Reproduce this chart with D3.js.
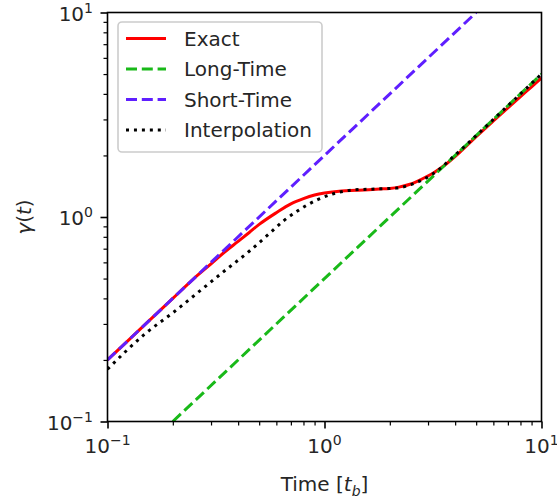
<!DOCTYPE html>
<html>
<head>
<meta charset="utf-8">
<script src="https://cdn.jsdelivr.net/npm/d3@7"></script>
<style>
body { margin: 0; background: #fff; }
text { font-family: "DejaVu Sans", sans-serif; fill: #262626; }
</style>
</head>
<body>
<svg id="chart" width="557" height="501"></svg>
<script>
// values
var exactT = [0.1, 0.15, 0.2, 0.25, 0.3, 0.35, 0.4, 0.45, 0.5, 0.6, 0.7, 0.8, 0.9, 1.0, 1.2, 1.4, 1.6, 1.8, 2.0, 2.2, 2.5, 2.8, 3.2, 3.6, 4.2, 5.0, 6.0, 7.0, 8.0, 9.0, 10];
var exactY = [0.2, 0.3, 0.4, 0.5, 0.59, 0.68, 0.76, 0.84, 0.92, 1.05, 1.16, 1.23, 1.28, 1.31, 1.34, 1.35, 1.36, 1.37, 1.38, 1.4, 1.45, 1.53, 1.65, 1.8, 2.07, 2.47, 2.95, 3.42, 3.88, 4.33, 4.78];
var longT = [0.2, 10];
var longY = [0.1, 5.0];
var shortT = [0.1, 5.0];
var shortY = [0.2, 10];
var interpT = [0.1, 0.15, 0.2, 0.27, 0.35, 0.45, 0.55, 0.65, 0.75, 0.92, 1.1, 1.35, 1.7, 2.15, 2.5, 2.9, 3.4, 3.9, 5, 6, 8, 10];
var interpY = [0.18, 0.27, 0.34, 0.44, 0.55, 0.68, 0.82, 0.96, 1.07, 1.21, 1.3, 1.355, 1.37, 1.385, 1.44, 1.54, 1.72, 1.96, 2.5, 3.0, 4.0, 5.0];

var majorTicks = [0.1, 1, 10];
var tickExps = ["\u22121", "0", "1"];
var seriesNames = ["Exact", "Long-Time", "Short-Time", "Interpolation"];

drawChart();

function drawChart() {
	var pLeft = 107.5, pRight = 541.5, pTop = 12.5, pBottom = 421.5;
	var fs = 20;

	var svg = d3.select("#chart");
	var x = d3.scaleLog().domain([0.1, 10]).range([pLeft, pRight]);
	var y = d3.scaleLog().domain([0.1, 10]).range([pBottom, pTop]);

	var minorTicks = [];
	[0.1, 1].forEach(function(d) {
		for (var k = 2; k < 10; k++) minorTicks.push(d * k);
	});

	svg.append("clipPath").attr("id", "plotClip")
		.append("rect").attr("x", pLeft).attr("y", pTop).attr("width", pRight - pLeft).attr("height", pBottom - pTop);

	var styles = [
		{ color: "#ff0000", dash: null },
		{ color: "#19b919", dash: "11,4.8" },
		{ color: "#5f1fff", dash: "11,4.8" },
		{ color: "#000000", dash: "3,4.95" }
	];
	var series = [[exactT, exactY], [longT, longY], [shortT, shortY], [interpT, interpY]];

	var line = d3.line()
		.x(function(d) { return x(d[0]); })
		.y(function(d) { return y(d[1]); })
		.curve(d3.curveMonotoneX);

	var plot = svg.append("g").attr("clip-path", "url(#plotClip)");
	series.forEach(function(s, i) {
		plot.append("path")
			.attr("d", line(d3.zip(s[0], s[1])))
			.attr("fill", "none")
			.attr("stroke", styles[i].color)
			.attr("stroke-width", 3)
			.attr("stroke-dasharray", styles[i].dash);
	});

	// ticks through d3 axes, labels drawn separately with superscripts
	var xMajor = svg.append("g").attr("transform", "translate(0," + pBottom + ")")
		.call(d3.axisBottom(x).tickValues(majorTicks).tickSize(7).tickFormat(""));
	var xMinor = svg.append("g").attr("transform", "translate(0," + pBottom + ")")
		.call(d3.axisBottom(x).tickValues(minorTicks).tickSize(4).tickFormat(""));
	var yMajor = svg.append("g").attr("transform", "translate(" + pLeft + ",0)")
		.call(d3.axisLeft(y).tickValues(majorTicks).tickSize(7).tickFormat(""));
	var yMinor = svg.append("g").attr("transform", "translate(" + pLeft + ",0)")
		.call(d3.axisLeft(y).tickValues(minorTicks).tickSize(4).tickFormat(""));
	[xMajor, yMajor].forEach(function(g) {
		g.select(".domain").remove();
		g.selectAll("line").attr("stroke", "#000").attr("stroke-width", 1.6);
	});
	[xMinor, yMinor].forEach(function(g) {
		g.select(".domain").remove();
		g.selectAll("line").attr("stroke", "#000").attr("stroke-width", 1.2);
	});

	svg.append("rect")
		.attr("x", pLeft).attr("y", pTop).attr("width", pRight - pLeft).attr("height", pBottom - pTop)
		.attr("fill", "none").attr("stroke", "#000").attr("stroke-width", 1.6);

	function powerLabel(sel, exp) {
		sel.append("tspan").text("10");
		sel.append("tspan").attr("dy", -8).attr("font-size", fs * 0.7).text(exp);
	}

	majorTicks.forEach(function(v, i) {
		var tx = svg.append("text").attr("x", x(v)).attr("y", 453)
			.attr("text-anchor", "middle").attr("font-size", fs);
		powerLabel(tx, tickExps[i]);
		var ty = svg.append("text").attr("x", 93).attr("y", y(v) + 8)
			.attr("text-anchor", "end").attr("font-size", fs);
		powerLabel(ty, tickExps[i]);
	});

	var xl = svg.append("text").attr("x", (pLeft + pRight) / 2).attr("y", 491)
		.attr("text-anchor", "middle").attr("font-size", fs);
	xl.append("tspan").text("Time [");
	xl.append("tspan").attr("font-style", "italic").text("t");
	xl.append("tspan").attr("font-style", "italic").attr("font-size", fs * 0.7).attr("dy", 5).text("b");
	xl.append("tspan").attr("dy", -5).text("]");

	var yl = svg.append("text").attr("transform", "translate(31," + ((pTop + pBottom) / 2) + ") rotate(-90)")
		.attr("text-anchor", "middle").attr("font-size", fs);
	yl.append("tspan").attr("font-style", "italic").text("\u03b3");
	yl.append("tspan").text("(");
	yl.append("tspan").attr("font-style", "italic").text("t");
	yl.append("tspan").text(")");

	// legend
	var legend = svg.append("g");
	legend.append("rect")
		.attr("x", 118).attr("y", 22).attr("width", 204).attr("height", 130)
		.attr("rx", 4).attr("fill", "#fff").attr("fill-opacity", 0.8)
		.attr("stroke", "#cccccc").attr("stroke-width", 1.6);
	seriesNames.forEach(function(name, i) {
		var cy = 38.5 + i * 30.5;
		legend.append("line")
			.attr("x1", 126).attr("x2", 166).attr("y1", cy).attr("y2", cy)
			.attr("stroke", styles[i].color).attr("stroke-width", 3)
			.attr("stroke-dasharray", styles[i].dash);
		legend.append("text").attr("x", 184).attr("y", cy + 7)
			.attr("font-size", fs).text(name);
	});
}
</script>
</body>
</html>
